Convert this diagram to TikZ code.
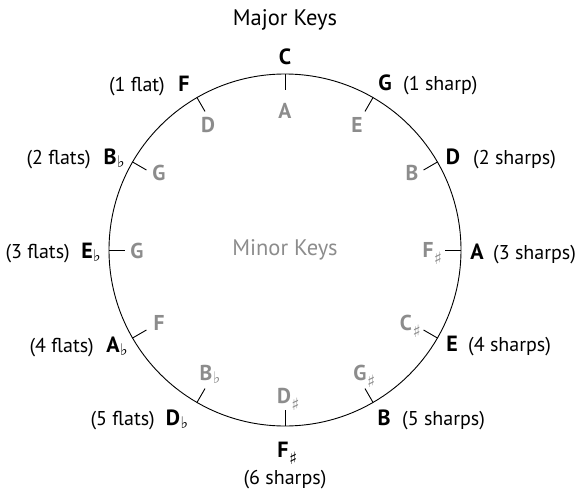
\documentclass[tikz,border=0pt]{standalone}
\usepackage{fontspec}
\usetikzlibrary{calc}
\setmainfont{PT Sans}
\newfontfamily\musicfont{DejaVu Sans}
\definecolor{keygray}{RGB}{140,140,140}
\newcommand{\shp}{\rlap{\smash{\kern0.5pt\raisebox{-6.5pt}{\fontsize{17}{17}\selectfont\musicfont ♯}}}}
\newcommand{\flt}{\rlap{\smash{\kern0.5pt\raisebox{-3pt}{\fontsize{16}{16}\selectfont\musicfont ♭}}}}
\tikzset{
  majkey/.style={font=\fontsize{22}{22}\selectfont\bfseries, inner sep=0pt},
  minkey/.style={font=\fontsize{21.5}{21.5}\selectfont\bfseries, text=keygray, inner sep=0pt},
  annot/.style={font=\fontsize{20}{20}\selectfont, inner sep=0pt},
  heading/.style={font=\fontsize{22.5}{22.5}\selectfont, inner sep=0pt},
  keyline/.style={line width=0.9pt, black}
}
\begin{document}
\begin{tikzpicture}[x=1pt,y=1pt]
\useasboundingbox (0,0) rectangle (579,-490);
\coordinate (ctr) at (285,-250);
\draw[keyline] (ctr) circle[radius=176];
\foreach \a in {0,30,...,330}
  \draw[keyline] ($(ctr)+(\a:176)$) -- ($(ctr)+(\a:160)$);

% headings
\node[heading] (major) at (285,-20) {Major Keys};
\node[heading, text=keygray] (minor) at (285,-250) {Minor Keys};

% major keys
\node[majkey] (kC)  at (285,-57)  {C};
\node[majkey] (kG)  at (385,-83)  {G};
\node[majkey] (kD)  at (453,-157) {D};
\node[majkey] (kA)  at (477,-252) {A};
\node[majkey] (kE)  at (452,-344) {E};
\node[majkey] (kB)  at (384,-418) {B};
\node[majkey] (kFs) at (283,-450) {F\shp};
\node[majkey] (kDb) at (173,-418) {D\flt};
\node[majkey] (kAb) at (113,-345) {A\flt};
\node[majkey] (kEb) at (87,-251)  {E\flt};
\node[majkey] (kBb) at (110,-157) {B\flt};
\node[majkey] (kF)  at (184,-84)  {F};

% annotations
\node[annot, anchor=base west] (aG)  at (403,0 |- kG.base) {(1 sharp)};
\node[annot, anchor=base west] (aD)  at (473,0 |- kD.base) {(2 sharps)};
\node[annot, anchor=base west] (aA)  at (493,0 |- kA.base) {(3 sharps)};
\node[annot, anchor=base west] (aE)  at (468,0 |- kE.base) {(4 sharps)};
\node[annot, anchor=base west] (aB)  at (402,0 |- kB.base) {(5 sharps)};
\node[annot] (aFs) at (285,-480) {(6 sharps)};
\node[annot, anchor=base east] (aDb) at (155,0 |- kDb.base) {(5 flats)};
\node[annot, anchor=base east] (aAb) at (94,0 |- kAb.base) {(4 flats)};
\node[annot, anchor=base east] (aEb) at (70,0 |- kEb.base) {(3 flats)};
\node[annot, anchor=base east] (aBb) at (91,0 |- kBb.base) {(2 flats)};
\node[annot, anchor=base east] (aF)  at (165,0 |- kF.base) {(1 flat)};

% minor keys
\node[minkey] (mA)  at (285,-111) {A};
\node[minkey] (mE)  at (357,-125) {E};
\node[minkey] (mB)  at (412,-173) {B};
\node[minkey] (mFs) at (428,-250) {F\shp};
\node[minkey] (mCs) at (406,-323) {C\shp};
\node[minkey] (mGs) at (360,-373) {G\shp};
\node[minkey] (mDs) at (284,-396) {D\shp};
\node[minkey] (mBb) at (206,-373) {B\flt};
\node[minkey] (mF)  at (159,-323) {F};
\node[minkey] (mG2) at (137,-251) {G};
\node[minkey] (mG)  at (159,-173) {G};
\node[minkey] (mD)  at (208,-125) {D};
\end{tikzpicture}
\end{document}
